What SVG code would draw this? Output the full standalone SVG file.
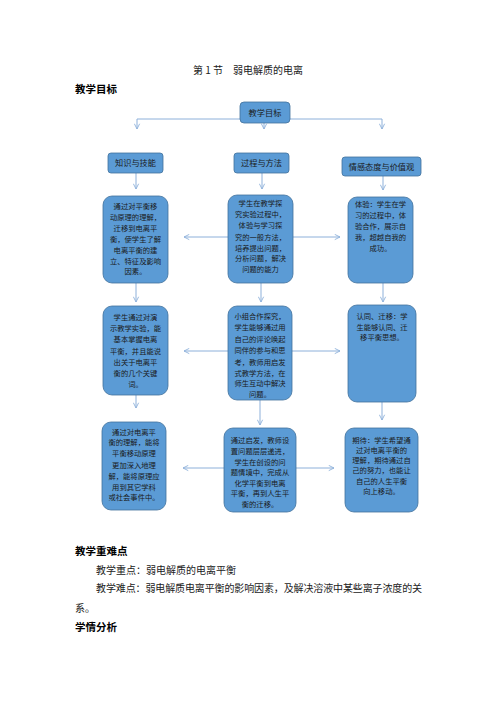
<svg xmlns="http://www.w3.org/2000/svg" width="496" height="702" viewBox="0 0 496 702">
<defs>
<marker id="ah" viewBox="0 0 8 8" refX="7" refY="4" markerWidth="7" markerHeight="7" markerUnits="userSpaceOnUse" orient="auto">
<path d="M1,1 L7,4 L1,7" fill="none" stroke="#8db0da" stroke-width="1"/>
</marker>
</defs>
<style>
.doc{font-family:"Noto Sans CJK SC","Noto Sans",sans-serif;fill:#222;font-size:10px}
.h{font-weight:bold;font-size:10.5px;fill:#000}
.box{fill:#5b9bd5;stroke:#41719c;stroke-width:0.8}
.t{font-family:"Noto Sans CJK SC","Noto Sans",sans-serif;font-size:7.3px;fill:#1a1a1a;text-anchor:middle}
.th{font-family:"Noto Sans CJK SC","Noto Sans",sans-serif;font-size:8.2px;fill:#1a1a1a;text-anchor:middle}
.c{fill:none;stroke:#8db0da;stroke-width:1}
.ca{fill:none;stroke:#8db0da;stroke-width:1;marker-end:url(#ah)}
</style>
<rect width="496" height="702" fill="#fff"/>
<text class="doc" x="248" y="74" text-anchor="middle">第 1 节　弱电解质的电离</text>
<text class="doc h" x="75" y="93">教学目标</text>

<g id="connectors">
<path class="c" d="M137,119 H382"/>
<path class="ca" d="M137,119 V129"/>
<path class="ca" d="M264,119 V129"/>
<path class="ca" d="M382,119 V129"/>
<path class="ca" d="M136,173 V189"/>
<path class="ca" d="M262,173 V189"/>
<path class="ca" d="M383,176 V190"/>
<path class="ca" d="M136,283 V302"/>
<path class="ca" d="M261,283 V302"/>
<path class="ca" d="M383,283 V302"/>
<path class="ca" d="M136,395 V408"/>
<path class="ca" d="M260,400 V425"/>
<path class="ca" d="M382,402 V420"/>
<path class="ca" d="M228,237 H184"/>
<path class="ca" d="M293,237 H340"/>
<path class="ca" d="M228,351 H184"/>
<path class="ca" d="M292,351 H340"/>
<path class="ca" d="M224,468 H183"/>
<path class="ca" d="M296,468 H334"/>
</g>

<g id="n-top">
<rect class="box" x="240" y="102" width="50" height="21" rx="4"/>
<text class="th" x="265" y="115.5">教学目标</text>
</g>
<g id="n-h1">
<rect class="box" x="108" y="153" width="55" height="20" rx="3"/>
<text class="th" x="135.5" y="166">知识与技能</text>
</g>
<g id="n-h2">
<rect class="box" x="234" y="153" width="55" height="20" rx="3"/>
<text class="th" x="261.5" y="166">过程与方法</text>
</g>
<g id="n-h3">
<rect class="box" x="342" y="157" width="79" height="19" rx="3"/>
<text class="th" x="381.5" y="169.5">情感态度与价值观</text>
</g>

<g id="n-l1">
<rect class="box" x="103" y="196" width="65" height="87" rx="9"/>
<text class="t" x="135.5" y="208.5">通过对平衡移</text>
<text class="t" x="135.5" y="219.5">动原理的理解，</text>
<text class="t" x="135.5" y="230.5">迁移到电离平</text>
<text class="t" x="135.5" y="241.5">衡，使学生了解</text>
<text class="t" x="135.5" y="252.5">电离平衡的建</text>
<text class="t" x="135.5" y="263.5">立、特征及影响</text>
<text class="t" x="135.5" y="274">因素。</text>
</g>
<g id="n-m1">
<rect class="box" x="228" y="195" width="65" height="88" rx="9"/>
<text class="t" x="260.5" y="206">学生在教学探</text>
<text class="t" x="260.5" y="217">究实验过程中，</text>
<text class="t" x="260.5" y="228">体验与学习探</text>
<text class="t" x="260.5" y="239.5">究的一般方法，</text>
<text class="t" x="260.5" y="250.5">培养提出问题，</text>
<text class="t" x="260.5" y="261">分析问题，解决</text>
<text class="t" x="260.5" y="272">问题的能力</text>
</g>
<g id="n-r1">
<rect class="box" x="348" y="197" width="65" height="86" rx="9"/>
<text class="t" x="380.5" y="207">体验：学生在学</text>
<text class="t" x="380.5" y="218">习的过程中，体</text>
<text class="t" x="380.5" y="229">验合作，展示自</text>
<text class="t" x="380.5" y="240">我，超越自我的</text>
<text class="t" x="380.5" y="251">成功。</text>
</g>

<g id="n-l2">
<rect class="box" x="103" y="306" width="65" height="89" rx="9"/>
<text class="t" x="135.5" y="319.5">学生通过对演</text>
<text class="t" x="135.5" y="330.5">示教学实验，能</text>
<text class="t" x="135.5" y="341.5">基本掌握电离</text>
<text class="t" x="135.5" y="353.5">平衡，并且能说</text>
<text class="t" x="135.5" y="365">出关于电离平</text>
<text class="t" x="135.5" y="375.5">衡的几个关键</text>
<text class="t" x="135.5" y="387">词。</text>
</g>
<g id="n-m2">
<rect class="box" x="228" y="306" width="64" height="94" rx="9"/>
<text class="t" x="260" y="318.5">小组合作探究，</text>
<text class="t" x="260" y="330">学生能够通过用</text>
<text class="t" x="260" y="341.5">自己的评论唤起</text>
<text class="t" x="260" y="353">同伴的参与和思</text>
<text class="t" x="260" y="364.5">考，教师用启发</text>
<text class="t" x="260" y="375.5">式教学方法，在</text>
<text class="t" x="260" y="386">师生互动中解决</text>
<text class="t" x="260" y="396.5">问题。</text>
</g>
<g id="n-r2">
<rect class="box" x="348" y="305" width="68" height="97" rx="9"/>
<text class="t" x="382" y="318.5">认同、迁移：学</text>
<text class="t" x="382" y="329.5">生能够认同、迁</text>
<text class="t" x="382" y="340">移平衡思想。</text>
</g>

<g id="n-l3">
<rect class="box" x="102" y="422" width="64" height="88" rx="9"/>
<text class="t" x="134" y="434.5">通过对电离平</text>
<text class="t" x="134" y="445">衡的理解，能将</text>
<text class="t" x="134" y="456">平衡移动原理</text>
<text class="t" x="134" y="467.5">更加深入地理</text>
<text class="t" x="134" y="479">解，能将原理应</text>
<text class="t" x="134" y="489.5">用到其它学科</text>
<text class="t" x="134" y="500">或社会事件中。</text>
</g>
<g id="n-m3">
<rect class="box" x="224" y="428" width="72" height="84" rx="9"/>
<text class="t" x="260" y="442.5">通过启发，教师设</text>
<text class="t" x="260" y="453.5">置问题层层递进，</text>
<text class="t" x="260" y="464.5">学生在创设的问</text>
<text class="t" x="260" y="474.5">题情境中，完成从</text>
<text class="t" x="260" y="485.5">化学平衡到电离</text>
<text class="t" x="260" y="495.5">平衡，再到人生平</text>
<text class="t" x="260" y="506.5">衡的迁移。</text>
</g>
<g id="n-r3">
<rect class="box" x="345" y="428" width="73" height="84" rx="9"/>
<text class="t" x="381.5" y="442.5">期待：学生希望通</text>
<text class="t" x="381.5" y="452.5">过对电离平衡的</text>
<text class="t" x="381.5" y="462.5">理解，期待通过自</text>
<text class="t" x="381.5" y="472.5">己的努力，也能让</text>
<text class="t" x="381.5" y="483.5">自己的人生平衡</text>
<text class="t" x="381.5" y="493.5">向上移动。</text>
</g>

<text class="doc h" x="75" y="555">教学重难点</text>
<text class="doc" x="96" y="574">教学重点：弱电解质的电离平衡</text>
<text class="doc" x="96" y="592" textLength="326" lengthAdjust="spacing">教学难点：弱电解质电离平衡的影响因素，及解决溶液中某些离子浓度的关</text>
<text class="doc" x="75" y="612">系。</text>
<text class="doc h" x="75" y="631">学情分析</text>
</svg>
